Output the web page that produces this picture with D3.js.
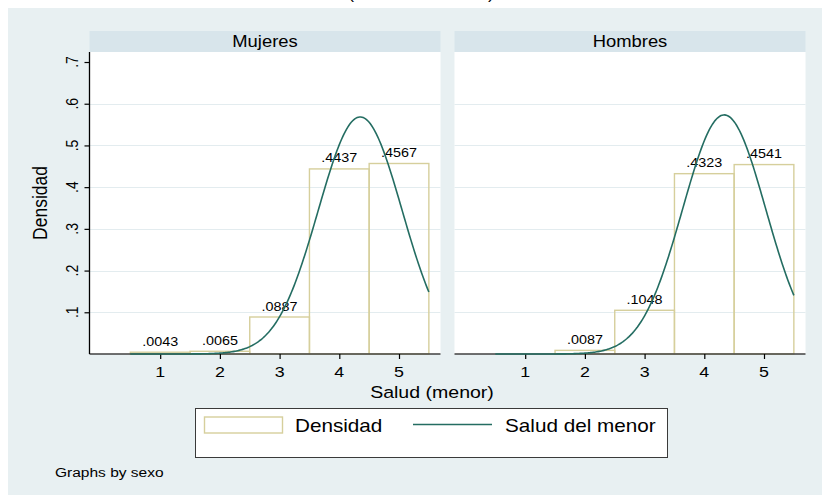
<!DOCTYPE html>
<html>
<head>
<meta charset="utf-8">
<script src="https://cdn.jsdelivr.net/npm/d3@7"></script>
<style>
  html, body { margin: 0; padding: 0; background: #ffffff; }
  svg { display: block; font-family: "Liberation Sans", Arial, sans-serif; }
</style>
</head>
<body>
<div id="chart"></div>
<script>
// Data
const categories = [1, 2, 3, 4, 5];
const panels = ["Mujeres", "Hombres"];
const densMujeres = [0.0043, 0.0065, 0.0887, 0.4437, 0.4567];
const densHombres = [0, 0.0087, 0.1048, 0.4323, 0.4541];
const normalMean = [4.35, 4.333];
const normalSd = [0.702, 0.696];
const yTicks = [0.1, 0.2, 0.3, 0.4, 0.5, 0.6, 0.7];
const xTicks = [1, 2, 3, 4, 5];

const width = 822, height = 495;
const stretch = 1.15;   // text in the reference is rendered a bit wide

const svg = d3.select("#chart")
  .append("svg")
  .attr("width", width)
  .attr("height", height);

// Graph region
svg.append("rect")
  .attr("x", 8).attr("y", 8)
  .attr("width", width - 8).attr("height", height - 8)
  .attr("fill", "#e8f0f2");

function txt(parent, x, y, s, size, opts = {}) {
  const t = parent.append("text")
    .attr("transform", `translate(${x},${y}) scale(${stretch},1)` + (opts.rotate ? " rotate(-90)" : ""))
    .attr("text-anchor", opts.anchor || "middle")
    .style("font-size", size + "px")
    .attr("fill", opts.fill || "#000")
    .text(s);
  if (opts.weight) t.style("font-weight", opts.weight);
  return t;
}

// Title (mostly cut off at the top of the picture)
txt(svg, 421, -1.5, "(Salud del menor)", 16);

const plotTop = 52, plotBottom = 354;
const panelLeft = [89.5, 454.5];
const panelWidth = 351;

const y = d3.scaleLinear().domain([0, 0.724]).range([plotBottom, plotTop]);

const fmt = v => d3.format(".4f")(v).replace(/^0/, "");
const fmtTick = v => d3.format(".1f")(v).replace(/^0/, "");

const barColor = "#d6cf9c";
const curveColor = "#246d62";

panels.forEach((name, p) => {
  const dens = p === 0 ? densMujeres : densHombres;
  const left = panelLeft[p];
  const x = d3.scaleLinear().domain([-0.184, 5.695]).range([left, left + panelWidth]);
  const g = svg.append("g");

  // Strip header
  g.append("rect")
    .attr("x", left).attr("y", 31)
    .attr("width", panelWidth).attr("height", plotTop - 31)
    .attr("fill", "#d8e5eb");
  txt(g, left + panelWidth / 2, 46.5, name, 16);

  // Plot region
  g.append("rect")
    .attr("x", left).attr("y", plotTop)
    .attr("width", panelWidth).attr("height", plotBottom - plotTop)
    .attr("fill", "#ffffff");

  // Gridlines
  g.selectAll(".grid")
    .data(yTicks.filter(t => t < 0.7))
    .enter()
    .append("line")
    .attr("x1", left).attr("x2", left + panelWidth)
    .attr("y1", d => Math.round(y(d)) + 0.5).attr("y2", d => Math.round(y(d)) + 0.5)
    .attr("stroke", "#e3ecef")
    .attr("stroke-width", 1.2);

  // Bars
  const bars = categories.map((c, i) => ({ c: c, v: dens[i] })).filter(d => d.v > 0);
  g.selectAll(".bar")
    .data(bars)
    .enter()
    .append("rect")
    .attr("x", d => x(d.c - 0.5))
    .attr("y", d => y(d.v))
    .attr("width", d => x(d.c + 0.5) - x(d.c - 0.5))
    .attr("height", d => y(0) - y(d.v))
    .attr("fill", "none")
    .attr("stroke", barColor)
    .attr("stroke-width", 1.4);

  // Bar labels
  bars.forEach(d => {
    txt(g, x(d.c), y(d.v) - 6.5, fmt(d.v), 12.5);
  });

  // X axis
  const xAxis = g.append("g")
    .attr("transform", `translate(0,${plotBottom})`)
    .call(d3.axisBottom(x).tickValues(xTicks).tickSize(5).tickFormat(""));
  xAxis.select(".domain").attr("stroke", "#404040").attr("stroke-width", 1.3)
    .attr("d", `M${left},0H${left + panelWidth}`);
  xAxis.selectAll(".tick line").attr("stroke", "#000").attr("stroke-width", 1.2);
  xTicks.forEach(t => txt(g, x(t), 376.5, String(t), 15.5));

  // Y axis on the first panel only
  if (p === 0) {
    const yAxis = g.append("g")
      .attr("transform", `translate(${left},0)`)
      .call(d3.axisLeft(y).tickValues(yTicks).tickSize(5).tickFormat(""));
    yAxis.select(".domain").attr("stroke", "#000").attr("stroke-width", 1.3)
      .attr("d", `M0,${plotBottom}V${plotTop}`);
    yAxis.selectAll(".tick line").attr("stroke", "#000").attr("stroke-width", 1.2);
    yTicks.forEach(t => txt(g, 77.5, y(t), fmtTick(t), 14, { rotate: true }));
  }

  // Normal density overlay
  const m = normalMean[p], s = normalSd[p];
  const pts = d3.range(0.5, 5.5001, 0.02).map(v => [v, Math.exp(-0.5 * ((v - m) / s) ** 2) / (s * Math.sqrt(2 * Math.PI))]);
  g.append("path")
    .datum(pts)
    .attr("fill", "none")
    .attr("stroke", curveColor)
    .attr("stroke-width", 1.6)
    .attr("d", d3.line().x(d => x(d[0])).y(d => y(d[1])));
});

// Axis titles
txt(svg, 46.5, (plotTop + plotBottom) / 2, "Densidad", 17.5, { rotate: true });
txt(svg, 432, 398, "Salud (menor)", 17);

// Legend
const lg = svg.append("g");
lg.append("rect")
  .attr("x", 195.5).attr("y", 408.5)
  .attr("width", 472).attr("height", 49)
  .attr("fill", "#ffffff")
  .attr("stroke", "#3a3a3a")
  .attr("stroke-width", 1);
lg.append("rect")
  .attr("x", 204.5).attr("y", 417)
  .attr("width", 78).attr("height", 16)
  .attr("fill", "#ffffff")
  .attr("stroke", barColor)
  .attr("stroke-width", 1.4);
txt(lg, 295, 432, "Densidad", 18, { anchor: "start" });
lg.append("line")
  .attr("x1", 413).attr("x2", 492)
  .attr("y1", 424.5).attr("y2", 424.5)
  .attr("stroke", curveColor)
  .attr("stroke-width", 1.6);
txt(lg, 505, 432, "Salud del menor", 18, { anchor: "start" });

// Note
txt(svg, 55, 476.5, "Graphs by sexo", 13.5, { anchor: "start" });
</script>
</body>
</html>
